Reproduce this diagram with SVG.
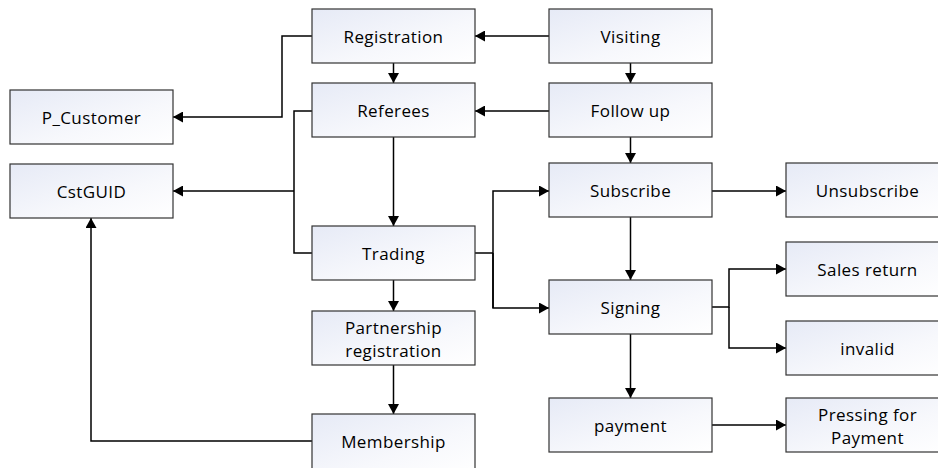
<svg xmlns="http://www.w3.org/2000/svg" width="938" height="468" viewBox="0 0 938 468">
<defs>
<linearGradient id="g" x1="0" y1="0" x2="1" y2="1">
<stop offset="0" stop-color="#e6eaf6"/>
<stop offset="0.6" stop-color="#f7f8fc"/>
<stop offset="1" stop-color="#ffffff"/>
</linearGradient>
<marker id="ah" viewBox="0 0 10 11" refX="10" refY="5.5" markerWidth="10" markerHeight="11" markerUnits="userSpaceOnUse" orient="auto">
<path d="M0,0 L10,5.5 L0,11 Z" fill="#000"/>
</marker>
<style>
.box{fill:url(#g);stroke:#333;stroke-width:1.2}
.t{font-family:"Open Sans","Liberation Sans",sans-serif;font-size:17px;letter-spacing:0.4px;fill:#000;text-anchor:middle;dominant-baseline:central}
.c{fill:none;stroke:#000;stroke-width:1.5}
.a{marker-end:url(#ah)}
</style>
</defs>
<g id="connectors">
<path class="c a" d="M549,36 H475"/>
<path class="c a" d="M549,111 H475"/>
<path class="c a" d="M630.5,63 V83"/>
<path class="c a" d="M630.5,137 V163"/>
<path class="c a" d="M393.5,63 V83"/>
<path class="c a" d="M393.5,137 V226"/>
<path class="c a" d="M393.5,280 V311"/>
<path class="c a" d="M393.5,365 V414"/>
<path class="c a" d="M312,36 H282 V117 H173"/>
<path class="c" d="M312,111 H294 V253 H312"/>
<path class="c a" d="M294,191 H173"/>
<path class="c a" d="M312,441 H91 V218"/>
<path class="c" d="M475,253 H493"/>
<path class="c a" d="M493,308 V191 H549"/>
<path class="c a" d="M493,253 V308 H549"/>
<path class="c a" d="M712,191 H786"/>
<path class="c a" d="M630.5,217 V280"/>
<path class="c a" d="M712,307 H729 V269 H786"/>
<path class="c a" d="M729,307 V348 H786"/>
<path class="c a" d="M630.5,334 V398"/>
<path class="c a" d="M712,425 H786"/>
</g>
<g id="registration"><rect class="box" x="312" y="9" width="163" height="54"/><text class="t" x="393.5" y="36">Registration</text></g>
<g id="visiting"><rect class="box" x="549" y="9" width="163" height="54"/><text class="t" x="630.5" y="36">Visiting</text></g>
<g id="referees"><rect class="box" x="312" y="83" width="163" height="54"/><text class="t" x="393.5" y="110">Referees</text></g>
<g id="followup"><rect class="box" x="549" y="83" width="163" height="54"/><text class="t" x="630.5" y="110">Follow up</text></g>
<g id="pcustomer"><rect class="box" x="10" y="90" width="163" height="54"/><text class="t" x="91.5" y="117">P_Customer</text></g>
<g id="cstguid"><rect class="box" x="10" y="164" width="163" height="54"/><text class="t" x="91.5" y="191">CstGUID</text></g>
<g id="subscribe"><rect class="box" x="549" y="163" width="163" height="54"/><text class="t" x="630.5" y="190">Subscribe</text></g>
<g id="unsubscribe"><rect class="box" x="786" y="163" width="163" height="54"/><text class="t" x="867.5" y="190">Unsubscribe</text></g>
<g id="trading"><rect class="box" x="312" y="226" width="163" height="54"/><text class="t" x="393.5" y="253">Trading</text></g>
<g id="salesreturn"><rect class="box" x="786" y="242" width="163" height="54"/><text class="t" x="867.5" y="269">Sales return</text></g>
<g id="signing"><rect class="box" x="549" y="280" width="163" height="54"/><text class="t" x="630.5" y="307">Signing</text></g>
<g id="partnership"><rect class="box" x="312" y="311" width="163" height="54"/><text class="t" x="393.5" y="327">Partnership</text><text class="t" x="393.5" y="350">registration</text></g>
<g id="invalid"><rect class="box" x="786" y="321" width="163" height="54"/><text class="t" x="867.5" y="348">invalid</text></g>
<g id="payment"><rect class="box" x="549" y="398" width="163" height="54"/><text class="t" x="630.5" y="425">payment</text></g>
<g id="pressing"><rect class="box" x="786" y="398" width="163" height="54"/><text class="t" x="867.5" y="414">Pressing for</text><text class="t" x="867.5" y="437">Payment</text></g>
<g id="membership"><rect class="box" x="312" y="414" width="163" height="60"/><text class="t" x="393.5" y="441">Membership</text></g>
</svg>
